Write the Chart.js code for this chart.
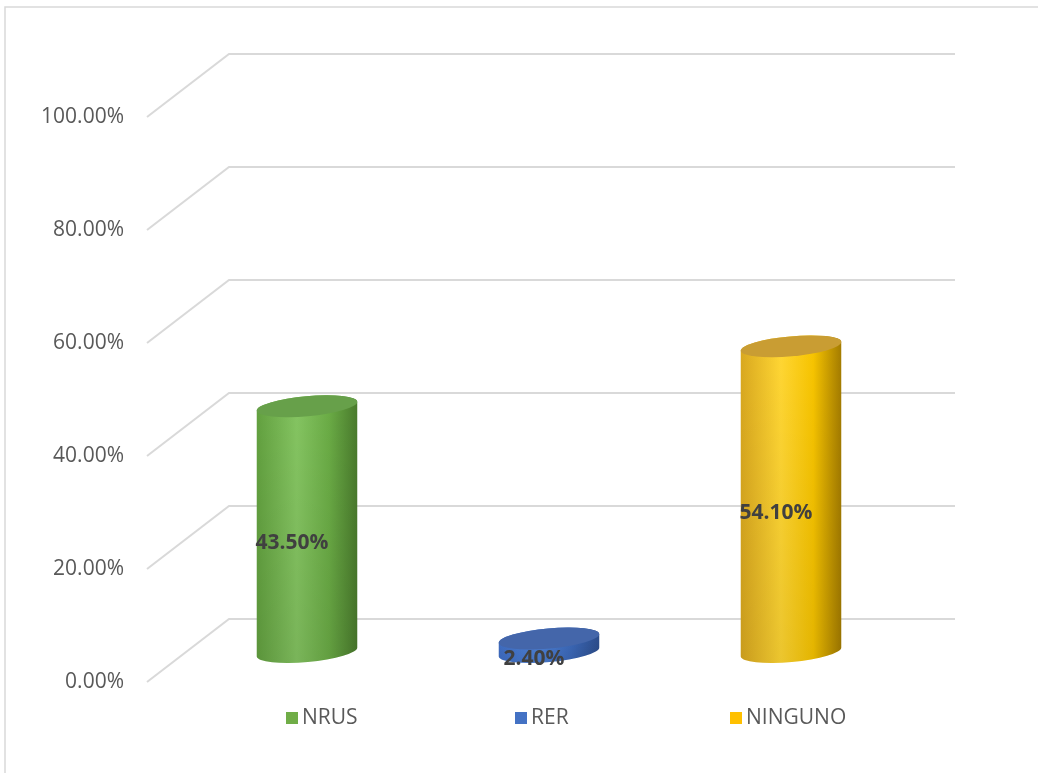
<!DOCTYPE html>
<html>
<head>
<meta charset="utf-8">
<script src="https://cdn.jsdelivr.net/npm/chart.js@4.4.1/dist/chart.umd.min.js"></script>
<style>
  html, body { margin: 0; padding: 0; background: #fff; }
  #wrap { width: 1038px; height: 773px; }
</style>
</head>
<body>
<div id="wrap"><canvas id="chart" width="1038" height="773"></canvas></div>
<script>
// shares per option
const categories = ['NRUS', 'RER', 'NINGUNO'];
const shares = [0.435, 0.024, 0.541];
const tickValues = [0, 0.2, 0.4, 0.6, 0.8, 1];

// cylinder colours (cap + horizontal shading of the body)
const bodyColors = [
    { cap: '#67a04a', stops: ['#62a03f', '#84c461', '#6aab45', '#497a2c'] },
    { cap: '#4466aa', stops: ['#3f6dc2', '#4c80d6', '#3b67b6', '#2c4c8a'] },
    { cap: '#c99d33', stops: ['#d9a81f', '#ffd633', '#f7c400', '#a37b00'] }
];
const legendSwatch = ['#70ad47', '#4472c4', '#ffc000'];

// fake 3D: back wall offset and depth at which the cylinders stand
const DEPTH_X = 82, DEPTH_Y = -63;
const BAR_DX = 39, BAR_DY = -30;
const FONT = '"Open Sans", "Noto Sans", sans-serif';

const pct = v => (v * 100).toFixed(2) + '%';

function cylinder(ctx, cx, yBase, yTop, rx, ry, rot, col) {
    const grad = ctx.createLinearGradient(cx - rx, 0, cx + rx, 0);
    grad.addColorStop(0, col.stops[0]);
    grad.addColorStop(0.4, col.stops[1]);
    grad.addColorStop(0.72, col.stops[2]);
    grad.addColorStop(1, col.stops[3]);
    ctx.beginPath();
    ctx.ellipse(cx, yBase, rx, ry, rot, 0, Math.PI, false);
    ctx.ellipse(cx, yTop, rx, ry, rot, Math.PI, 2 * Math.PI, false);
    ctx.closePath();
    ctx.fillStyle = grad;
    ctx.fill();
    // slight darkening towards the foot
    const shade = ctx.createLinearGradient(0, yTop, 0, yBase + ry);
    shade.addColorStop(0, 'rgba(0,0,0,0)');
    shade.addColorStop(1, 'rgba(0,0,0,0.08)');
    ctx.fillStyle = shade;
    ctx.fill();
    ctx.beginPath();
    ctx.ellipse(cx, yTop, rx, ry, rot, 0, 2 * Math.PI);
    ctx.fillStyle = col.cap;
    ctx.fill();
}

const frame3d = {
    id: 'frame3d',
    beforeDraw(chart) {
        const ctx = chart.ctx;
        ctx.save();
        ctx.fillStyle = '#fff';
        ctx.fillRect(0, 0, chart.width, chart.height);
        ctx.strokeStyle = '#d9d9d9';
        ctx.lineWidth = 1.5;
        ctx.strokeRect(5, 7, chart.width + 20, chart.height + 20);
        ctx.restore();
    },
    beforeDatasetsDraw(chart) {
        const { ctx, chartArea: a, scales: { y } } = chart;
        ctx.save();
        ctx.strokeStyle = '#d9d9d9';
        ctx.lineWidth = 2;
        tickValues.forEach(v => {
            const py = y.getPixelForValue(v);
            ctx.beginPath();
            ctx.moveTo(a.left, py);
            ctx.lineTo(a.left + DEPTH_X, py + DEPTH_Y);
            ctx.lineTo(a.right + DEPTH_X, py + DEPTH_Y);
            ctx.stroke();
        });
        ctx.restore();
    },
    afterDatasetsDraw(chart) {
        const ctx = chart.ctx;
        const meta = chart.getDatasetMeta(0);
        ctx.save();
        meta.data.forEach((bar, i) => {
            const p = bar.getProps(['x', 'y', 'base', 'width'], true);
            const cx = p.x + BAR_DX;
            const yb = p.base + BAR_DY, yt = p.y + BAR_DY;
            cylinder(ctx, cx, yb, yt, p.width / 2, 10, -0.09, bodyColors[i]);
        });
        ctx.font = 'bold 21px ' + FONT;
        ctx.fillStyle = '#404040';
        ctx.textAlign = 'center';
        ctx.textBaseline = 'middle';
        meta.data.forEach((bar, i) => {
            const p = bar.getProps(['x', 'y', 'base'], true);
            ctx.fillText(pct(shares[i]), p.x + BAR_DX - 15, (p.y + p.base) / 2 + BAR_DY + 14);
        });
        ctx.restore();
    },
    afterDraw(chart) {
        // legend along the bottom, one entry per category
        const ctx = chart.ctx;
        const legendX = [286, 515, 730], ly = 718;
        ctx.save();
        ctx.font = '21px ' + FONT;
        ctx.textBaseline = 'middle';
        ctx.textAlign = 'left';
        categories.forEach((c, i) => {
            ctx.fillStyle = legendSwatch[i];
            ctx.fillRect(legendX[i], ly - 6, 12, 12);
            ctx.fillStyle = '#595959';
            ctx.fillText(c, legendX[i] + 16, ly);
        });
        ctx.restore();
    }
};

new Chart(document.getElementById('chart'), {
    type: 'bar',
    data: {
        labels: categories,
        datasets: [{
            data: shares,
            backgroundColor: 'rgba(0,0,0,0)',
            borderWidth: 0,
            categoryPercentage: 1,
            barPercentage: 0.417
        }]
    },
    options: {
        responsive: false,
        animation: false,
        events: [],
        layout: { padding: { top: 117, bottom: 91, left: 0, right: 165 } },
        plugins: { legend: { display: false }, tooltip: { enabled: false } },
        scales: {
            x: { display: false },
            y: {
                min: 0, max: 1,
                afterFit(scale) { scale.width = 147; },
                afterBuildTicks(scale) { scale.ticks = tickValues.map(v => ({ value: v })); },
                grid: { display: false, drawTicks: false },
                border: { display: false },
                ticks: {
                    padding: 23,
                    color: '#595959',
                    font: { family: FONT, size: 21 },
                    callback: v => pct(v)
                }
            }
        }
    },
    plugins: [frame3d]
});
</script>
</body>
</html>
